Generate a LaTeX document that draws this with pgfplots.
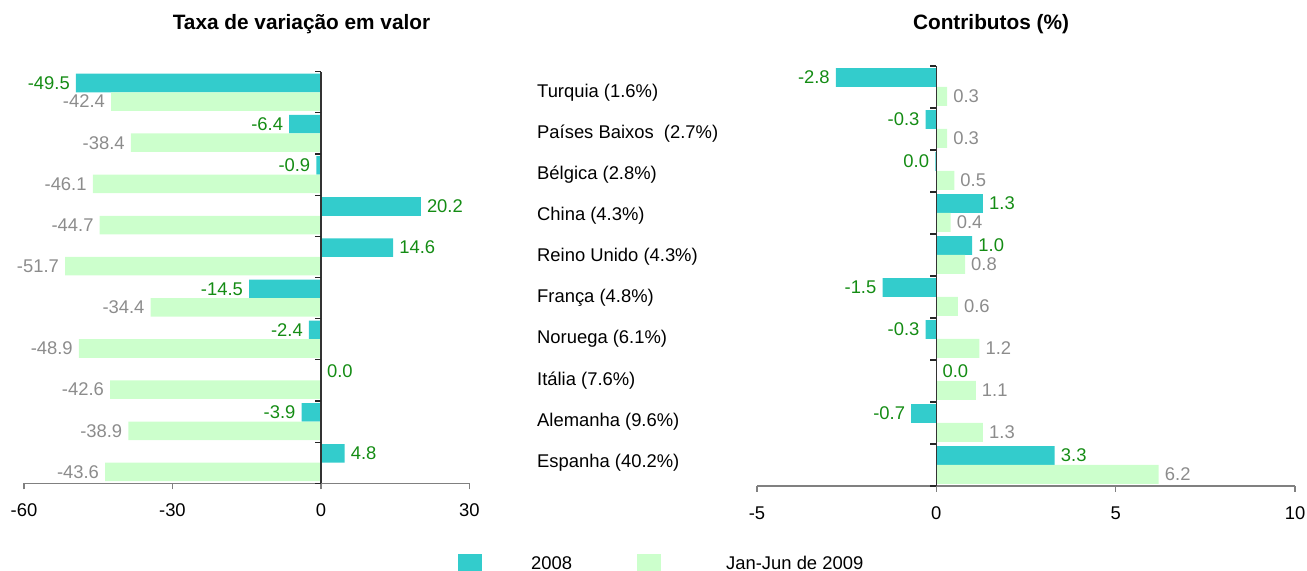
\documentclass[border=0pt]{standalone}
\usepackage{fontspec}
\setmainfont{Liberation Sans}
\usepackage{pgfplots}
\usepackage{pgfplotstable}
\pgfplotsset{compat=1.18}
\definecolor{cteal}{RGB}{51,204,204}
\definecolor{cgreen}{RGB}{204,255,204}
\definecolor{labgreen}{RGB}{20,140,20}
\definecolor{labgray}{RGB}{140,140,140}
\definecolor{axgray}{RGB}{128,128,128}
\newcommand\F{\fontsize{18.4bp}{22bp}\selectfont}
\newcommand\T{\fontsize{20.8bp}{25bp}\selectfont\bfseries}

% Taxa de variacao em valor
\pgfplotstableread{
y x lab
9.225 -49.5 -49.5
8.225 -6.4 -6.4
7.225 -0.9 -0.9
6.225 20.2 20.2
5.225 14.6 14.6
4.225 -14.5 -14.5
3.225 -2.4 -2.4
2.225 0.0 0.0
1.225 -3.9 -3.9
0.225 4.8 4.8
}\leftA
\pgfplotstableread{
y x lab
8.775 -42.4 -42.4
7.775 -38.4 -38.4
6.775 -46.1 -46.1
5.775 -44.7 -44.7
4.775 -51.7 -51.7
3.775 -34.4 -34.4
2.775 -48.9 -48.9
1.775 -42.6 -42.6
0.775 -38.9 -38.9
-0.225 -43.6 -43.6
}\leftB
% Contributos
\pgfplotstableread{
y x lab
9.225 -2.8 -2.8
8.225 -0.3 -0.3
7.225 -0.03 0.0
6.225 1.3 1.3
5.225 1.0 1.0
4.225 -1.5 -1.5
3.225 -0.3 -0.3
2.225 0.0 0.0
1.225 -0.7 -0.7
0.225 3.3 3.3
}\rightA
\pgfplotstableread{
y x lab
8.775 0.3 0.3
7.775 0.3 0.3
6.775 0.5 0.5
5.775 0.4 0.4
4.775 0.8 0.8
3.775 0.6 0.6
2.775 1.2 1.2
1.775 1.1 1.1
0.775 1.3 1.3
-0.225 6.2 6.2
}\rightB

\pgfplotsset{
  panel/.style={
    anchor=south west, scale only axis, clip=false,
    ymin=-0.5, ymax=9.5,
    axis x line*=bottom, axis y line=none, ytick=\empty,
    x axis line style={draw=axgray, line width=1.3bp, -},
    xtick style={draw=axgray, line width=1.3bp},
    tick align=outside, major tick length=6bp,
    xticklabel style={font=\F, text=black, yshift=-11bp},
    /pgf/number format/assume math mode=true,
  },
  barbase/.style={xbar, bar width=0.45, bar shift=0pt, draw=none,
    point meta=explicit symbolic,
    nodes near coords={\pgfplotspointmeta},
    visualization depends on={x \as \xv},
    every node near coord/.append style={font=\F, inner xsep=6bp,
      anchor=\ifdim\xv pt<0pt east\else west\fi}},
  barA/.style={barbase, fill=cteal,
    every node near coord/.append style={text=labgreen}},
  barB/.style={barbase, fill=cgreen,
    every node near coord/.append style={text=labgray}},
}

\begin{document}
\begin{tikzpicture}
\useasboundingbox (0,0) rectangle (1307bp,571bp);

\begin{axis}[panel, at={(24bp,87.7bp)}, width=445.3bp, height=411.6bp,
  xmin=-60, xmax=30, xtick={-60,-30,0,30}]
\addplot[barA] table[x=x,y=y,meta=lab]{\leftA};
\addplot[barB] table[x=x,y=y,meta=lab]{\leftB};
\draw[line width=1.3bp, black!80] (axis cs:0,-0.5) -- (axis cs:0,9.5);
\pgfplotsinvokeforeach{-0.5,0.5,1.5,2.5,3.5,4.5,5.5,6.5,7.5,8.5,9.5}{
  \draw[line width=1.2bp, black!85] (axis cs:0,#1) -- ++(-6bp,0pt);}
\node[anchor=west, font=\F, inner sep=0, xshift=67.7bp] at (axis cs:30,9) {Turquia (1.6\%)};
\node[anchor=west, font=\F, inner sep=0, xshift=67.7bp] at (axis cs:30,8) {Países Baixos\ \ (2.7\%)};
\node[anchor=west, font=\F, inner sep=0, xshift=67.7bp] at (axis cs:30,7) {Bélgica (2.8\%)};
\node[anchor=west, font=\F, inner sep=0, xshift=67.7bp] at (axis cs:30,6) {China (4.3\%)};
\node[anchor=west, font=\F, inner sep=0, xshift=67.7bp] at (axis cs:30,5) {Reino Unido (4.3\%)};
\node[anchor=west, font=\F, inner sep=0, xshift=67.7bp] at (axis cs:30,4) {França (4.8\%)};
\node[anchor=west, font=\F, inner sep=0, xshift=67.7bp] at (axis cs:30,3) {Noruega (6.1\%)};
\node[anchor=west, font=\F, inner sep=0, xshift=67.7bp] at (axis cs:30,2) {Itália (7.6\%)};
\node[anchor=west, font=\F, inner sep=0, xshift=67.7bp] at (axis cs:30,1) {Alemanha (9.6\%)};
\node[anchor=west, font=\F, inner sep=0, xshift=67.7bp] at (axis cs:30,0) {Espanha (40.2\%)};
\end{axis}

\begin{axis}[panel, at={(757bp,85bp)}, width=538bp, height=420bp,
  xmin=-5, xmax=10, xtick={-5,0,5,10}]
\addplot[barA] table[x=x,y=y,meta=lab]{\rightA};
\addplot[barB] table[x=x,y=y,meta=lab]{\rightB};
\draw[line width=1.3bp, black!80] (axis cs:0,-0.5) -- (axis cs:0,9.5);
\pgfplotsinvokeforeach{-0.5,0.5,1.5,2.5,3.5,4.5,5.5,6.5,7.5,8.5,9.5}{
  \draw[line width=1.2bp, black!85] (axis cs:0,#1) -- ++(-6bp,0pt);}
\end{axis}

\node[font=\T] at (301.5bp,547bp) {Taxa de variação em valor};
\node[font=\T] at (991bp,547bp) {Contributos (\%)};

% legend
\fill[cteal] (458bp,0bp) rectangle (482bp,17bp);
\node[anchor=base west, inner sep=0, font=\F] at (531bp,2bp) {2008};
\fill[cgreen] (637bp,0bp) rectangle (661bp,17bp);
\node[anchor=base west, inner sep=0, font=\F] at (726bp,2bp) {Jan-Jun de 2009};
\end{tikzpicture}
\end{document}
